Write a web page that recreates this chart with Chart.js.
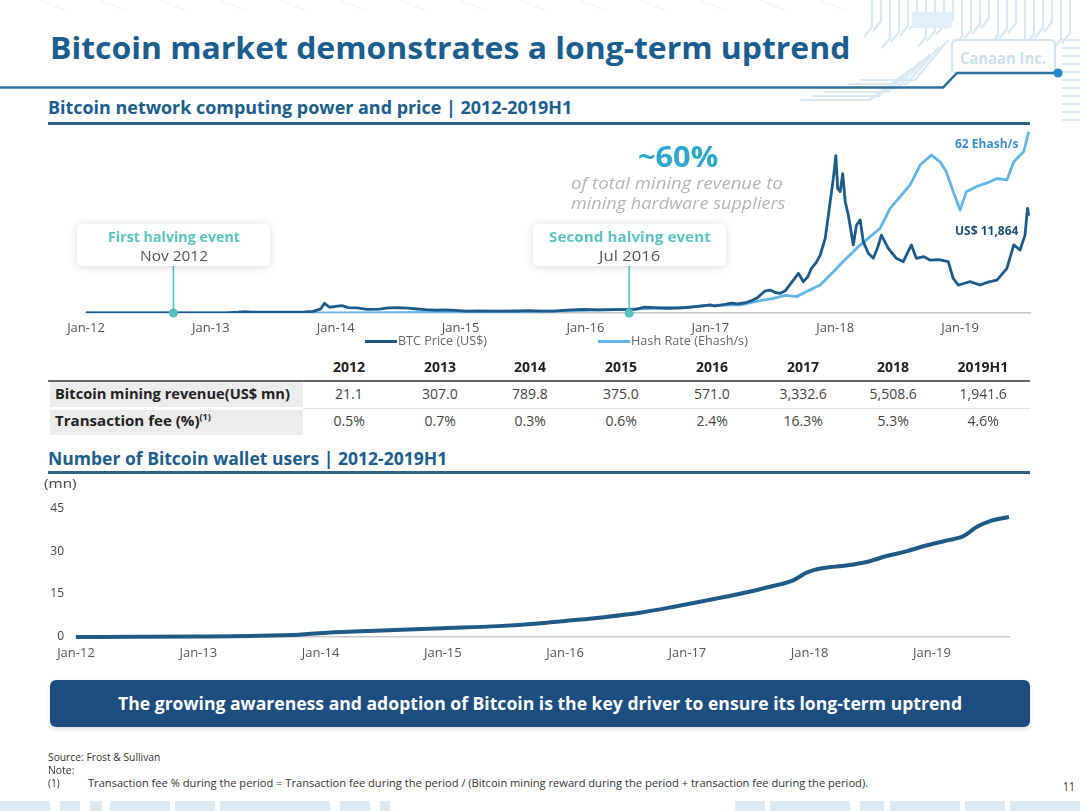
<!DOCTYPE html>
<html>
<head>
<meta charset="utf-8">
<script src="https://cdn.jsdelivr.net/npm/chart.js@4.4.1/dist/chart.umd.min.js"></script>
<style>
  html,body{margin:0;padding:0;background:#fff;}
  #page{position:relative;width:1080px;height:811px;overflow:hidden;font-family:'Open Sans','Noto Sans',sans-serif;}
  .t{position:absolute;white-space:nowrap;transform-origin:0 50%;line-height:1.2;}
  .abs{position:absolute;}
  canvas{position:absolute;}
  sup{font-size:60%;vertical-align:top;position:relative;top:-1px;}
</style>
</head>
<body>
<div id="page">
  <svg id="deco" class="abs" width="1080" height="811" style="left:0;top:0"></svg>
  <canvas id="c1" width="1080" height="225" style="left:0;top:120px"></canvas>
  <canvas id="c2" width="1080" height="176" style="left:0;top:489px"></canvas>
</div>
<script>
// ---------------- DATA ----------------
const tickYears = [2012, 2013, 2014, 2015, 2016, 2017, 2018, 2019];

// BTC price (US$), x = decimal year
const priceX = [2012.00,2012.20,2012.45,2012.62,2012.75,2013.00,2013.12,2013.22,2013.27,2013.32,2013.45,2013.55,2013.65,2013.75,2013.82,2013.88,2013.91,2013.95,2014.00,2014.05,2014.10,2014.17,2014.25,2014.35,2014.42,2014.50,2014.58,2014.65,2014.72,2014.80,2014.88,2014.96,2015.04,2015.15,2015.30,2015.45,2015.55,2015.65,2015.75,2015.85,2015.93,2016.00,2016.10,2016.25,2016.40,2016.47,2016.55,2016.65,2016.75,2016.85,2016.95,2017.00,2017.03,2017.12,2017.17,2017.22,2017.28,2017.33,2017.38,2017.40,2017.44,2017.48,2017.52,2017.56,2017.60,2017.63,2017.665,2017.705,2017.745,2017.78,2017.81,2017.85,2017.88,2017.92,2017.96,2017.985,2018.005,2018.02,2018.04,2018.06,2018.08,2018.105,2018.145,2018.17,2018.20,2018.225,2018.265,2018.305,2018.34,2018.37,2018.425,2018.49,2018.545,2018.61,2018.65,2018.71,2018.76,2018.83,2018.905,2018.945,2018.985,2019.03,2019.08,2019.16,2019.23,2019.295,2019.375,2019.43,2019.48,2019.52,2019.54,2019.55];
const priceY = [5.5,5,6.5,10,12,13.5,22,90,160,110,110,90,115,140,200,500,1180,700,800,900,650,620,450,480,620,640,590,490,400,350,380,320,220,255,230,245,285,230,240,350,420,430,380,420,450,700,650,580,610,710,900,1000,850,1050,1200,1100,1250,1500,1900,2200,2700,2800,2500,2400,2700,3300,4000,4840,3820,4400,5450,6200,7070,9100,13600,16400,19200,15200,14800,17000,13600,11950,8300,10700,11340,8700,7280,6670,8000,9500,7890,6670,6260,8300,6670,6870,6460,6500,6260,4230,3410,3600,3820,3410,3800,4020,5450,8300,7680,9500,12770,11864];

// Network hash rate (Ehash/s)
const hashX = [2012.00,2013.00,2014.00,2014.50,2015.00,2015.50,2016.00,2016.50,2016.80,2017.00,2017.24,2017.40,2017.505,2017.60,2017.69,2017.78,2017.88,2017.985,2018.09,2018.17,2018.25,2018.36,2018.44,2018.52,2018.60,2018.68,2018.77,2018.84,2018.89,2018.945,2019.00,2019.05,2019.13,2019.21,2019.295,2019.375,2019.43,2019.51,2019.55];
const hashY = [0,0.01,0.02,0.15,0.35,0.45,0.9,1.5,2.0,2.6,2.8,4.2,5.0,6.0,5.6,7.5,9.6,14.1,18.7,22.1,25,29,35.8,39.8,43.8,50.6,54,51.7,48.3,41.5,35.2,41.5,43.2,44.4,46,45.5,51.7,55.2,62];

// Halving events (positions as drawn in the reference)
const halvingX = [2012.70, 2016.35];
const halvingTitles = ['First halving event', 'Second halving event'];
const halvingDates = ['Nov 2012', 'Jul 2016'];

// Table
const tableYears = ['2012','2013','2014','2015','2016','2017','2018','2019H1'];
const miningRevenue = ['21.1','307.0','789.8','375.0','571.0','3,332.6','5,508.6','1,941.6'];
const transactionFee = ['0.5%','0.7%','0.3%','0.6%','2.4%','16.3%','5.3%','4.6%'];

// Wallet users (mn)
const walletX = [2012.0,2012.5,2013.0,2013.5,2013.85,2014.05,2014.5,2015.0,2015.45,2015.8,2016.0,2016.35,2016.61,2016.88,2017.16,2017.43,2017.70,2017.865,2017.975,2018.11,2018.30,2018.465,2018.63,2018.79,2018.93,2019.12,2019.255,2019.365,2019.47,2019.63];
const walletY = [0,0.05,0.15,0.4,0.9,1.5,2.3,3.1,3.8,4.8,5.6,7.1,8.5,10.5,12.8,15.1,17.8,19.8,22.5,24.1,25.0,26.2,28.3,29.9,31.7,33.7,35.2,38.4,40.4,41.9];
const walletTicks = [0, 15, 30, 45];

// ---------------- STYLE ----------------
const NAVY = '#1b5d8e', PRICE = '#1d5a8a', HASH = '#62b4e6', TEAL = '#52c0bd';
const page = document.getElementById('page');

function T(html, left, cy, w, css, center) {
  const d = document.createElement('div');
  d.className = 't';
  d.innerHTML = html;
  Object.assign(d.style, css || {});
  page.appendChild(d);
  const nat = d.offsetWidth;
  const k = w ? w / nat : 1;
  const ww = w || nat;
  d.style.left = (center ? left - ww / 2 : left) + 'px';
  d.style.top = cy + 'px';
  d.style.transform = 'translateY(-50%) scaleX(' + k + ')';
  return d;
}
function R(left, top, w, h, css) {
  const d = document.createElement('div');
  d.className = 'abs';
  Object.assign(d.style, {left: left + 'px', top: top + 'px', width: w + 'px', height: h + 'px'}, css || {});
  page.appendChild(d);
  return d;
}

// ---------------- DECORATION ----------------
(function deco() {
  const svg = document.getElementById('deco');
  let s = '';
  const c = '#d9e9f4';
  for (let x = 872; x <= 1078; x += 9) {
    const h = 18 + ((x * 7) % 23);
    s += `<polyline points="${x},0 ${x},${h} ${x - 8},${h + 10}" fill="none" stroke="${c}" stroke-width="2.2"/>`;
  }
  for (let i = 0; i < 6; i++) {
    s += `<polyline points="${948 - i * 9},${40 + i * 7} ${915 - i * 9},${80 + i * 4} ${860 - i * 12},${80 + i * 4}" fill="none" stroke="${c}" stroke-width="2.2"/>`;
  }
  s += `<rect x="912" y="12" width="40" height="16" fill="#e3eff8"/>`;
  for (let y = 40; y <= 125; y += 8) s += `<line x1="1062" y1="${y}" x2="1080" y2="${y}" stroke="${c}" stroke-width="2"/>`;
  for (let x = 40; x < 860; x += 60) s += `<line x1="${x}" y1="0" x2="${x + 25}" y2="10" stroke="#f3f8fc" stroke-width="2"/>`;
  // bottom strip
  const blocks = [[0,50],[60,20],[90,12],[110,60],[175,40],[220,110],[340,30],[380,10],[735,30],[770,80],[860,24],[890,70],[965,40],[1010,70]];
  blocks.forEach(b => { s += `<rect x="${b[0]}" y="801" width="${b[1]}" height="10" fill="#d3e6f3" opacity="0.8"/>`; });
  // header line
  s += `<rect x="952" y="40" width="103" height="33" rx="4" fill="#fff" stroke="#d3e5f1" stroke-width="2"/>`;
  s += `<polyline points="0,87.5 943,87.5 957,73 1058,73" fill="none" stroke="#2b6e9c" stroke-width="2.5"/>`;
  s += `<circle cx="1058" cy="73" r="4.5" fill="#1f88c9"/>`;
  svg.innerHTML = s;
})();

// ---------------- TEXT / LAYOUT ----------------
T('Canaan Inc.', 1003, 59, 86, {fontSize: '16px', fontWeight: 700, color: '#cddfeb'}, true);
T('Bitcoin market demonstrates a long-term uptrend', 50, 48, 800, {fontSize: '31px', fontWeight: 700, color: NAVY});
T('Bitcoin network computing power and price | 2012-2019H1', 48, 108, 524, {fontSize: '17px', fontWeight: 700, color: NAVY});
R(48, 122, 982, 3, {background: '#2a628c'});

// ---------------- CHART 1 ----------------
const pts = (xs, ys) => xs.map((x, i) => ({x: x, y: ys[i]}));
const tickLabel = v => 'Jan-' + String(v).slice(2);
const PRICE_MAX = 22927, HASH_MAX = 64.3, MARKER_TOP = 5730;

const markerSets = halvingX.map((hx, i) => ({
  label: halvingTitles[i],
  data: [{x: hx, y: 0}, {x: hx, y: MARKER_TOP}],
  yAxisID: 'yP', borderColor: TEAL, borderWidth: 1.5,
  pointRadius: [4.5, 0], pointBackgroundColor: TEAL, pointBorderWidth: 0,
  clip: false, order: 0
}));

new Chart(document.getElementById('c1'), {
  type: 'line',
  data: {
    datasets: [
      {label: 'BTC Price (US$)', data: pts(priceX, priceY), yAxisID: 'yP', borderColor: PRICE, borderWidth: 2.8, pointRadius: 0, tension: 0, borderJoinStyle: 'round', order: 1},
      {label: 'Hash Rate (Ehash/s)', data: pts(hashX, hashY), yAxisID: 'yH', borderColor: HASH, borderWidth: 2.8, pointRadius: 0, tension: 0, borderJoinStyle: 'round', order: 2},
      ...markerSets
    ]
  },
  options: {
    responsive: false, animation: false,
    layout: {padding: {left: 86, right: 50, top: 5, bottom: 0}},
    plugins: {legend: {display: false}, tooltip: {enabled: false}},
    scales: {
      x: {
        type: 'linear', min: 2012, max: 2019.56,
        afterBuildTicks: s => { s.ticks = tickYears.map(v => ({value: v})); },
        afterFit: s => { s.height = 32; },
        grid: {display: false, drawTicks: false},
        border: {display: true, color: '#c4c4c4', width: 1.5},
        ticks: {callback: tickLabel, color: '#555', font: {family: 'Open Sans', size: 13}, padding: 7, maxRotation: 0, autoSkip: false}
      },
      yP: {display: false, min: 0, max: PRICE_MAX},
      yH: {display: false, min: 0, max: HASH_MAX}
    }
  }
});

// annotations over chart 1
T('~60%', 678, 157, 80, {fontSize: '28px', fontWeight: 700, color: '#2ea6d2'}, true);
T('of total mining revenue to', 677, 183, 212, {fontSize: '17px', fontStyle: 'italic', color: '#b4b4b4'}, true);
T('mining hardware suppliers', 678, 203, 214, {fontSize: '17px', fontStyle: 'italic', color: '#b4b4b4'}, true);
T('62 Ehash/s', 955, 144, 63, {fontSize: '12px', fontWeight: 700, color: '#3c8fc6'});
T('US$ 11,864', 955, 231, 63, {fontSize: '12px', fontWeight: 700, color: '#1d4f78'});

const boxLeft = [77, 533];
halvingX.forEach((hx, i) => {
  R(boxLeft[i], 224, 193, 42, {background: '#fff', borderRadius: '5px', boxShadow: '0 1px 8px rgba(0,0,0,0.16)'});
  const cx = boxLeft[i] + 96.5;
  T(halvingTitles[i], cx, 236, i === 0 ? 132 : 162, {fontSize: '15px', fontWeight: 700, color: '#5cc4c0'}, true);
  T(halvingDates[i], cx, 255, i === 0 ? 68 : 61, {fontSize: '15px', color: '#555'}, true);
});

// legend
R(365, 340, 32, 3, {background: PRICE});
T('BTC Price (US$)', 398, 341, 89, {fontSize: '12px', color: '#666'});
R(598, 340, 32, 3, {background: HASH});
T('Hash Rate (Ehash/s)', 631, 341, 117, {fontSize: '12px', color: '#666'});

// ---------------- TABLE ----------------
const colX = [349, 440, 530, 621, 712, 803, 893, 983];
R(50, 382, 253, 25, {background: '#ececec'});
R(50, 410, 253, 25, {background: '#ececec'});
R(48, 380, 982, 2, {background: '#666'});
R(303, 408, 727, 1, {background: '#e4e4e4'});
tableYears.forEach((y, i) => T(y, colX[i], 367, null, {fontSize: '14px', fontWeight: 700, color: '#222'}, true));
miningRevenue.forEach((v, i) => T(v, colX[i], 394, null, {fontSize: '14px', color: '#444'}, true));
transactionFee.forEach((v, i) => T(v, colX[i], 421, null, {fontSize: '14px', color: '#444'}, true));
T('Bitcoin mining revenue(US$ mn)', 55, 394, 235, {fontSize: '14px', fontWeight: 700, color: '#222'});
T('Transaction fee (%)<sup>(1)</sup>', 55, 421, 156, {fontSize: '14px', fontWeight: 700, color: '#222'});

// ---------------- CHART 2 ----------------
T('Number of Bitcoin wallet users | 2012-2019H1', 48, 459, 399, {fontSize: '17px', fontWeight: 700, color: NAVY});
R(48, 471, 982, 3, {background: '#2a628c'});
T('(mn)', 44, 484, 33, {fontSize: '13px', color: '#444'});

new Chart(document.getElementById('c2'), {
  type: 'line',
  data: {datasets: [{label: 'Bitcoin wallet users (mn)', data: pts(walletX, walletY), borderColor: '#1f5a84', borderWidth: 4, pointRadius: 0, cubicInterpolationMode: 'monotone', clip: false}]},
  options: {
    responsive: false, animation: false,
    layout: {padding: {left: 0, right: 71, top: 12, bottom: 0}},
    plugins: {legend: {display: false}, tooltip: {enabled: false}},
    scales: {
      x: {
        type: 'linear', min: 2012, max: 2019.63,
        afterBuildTicks: s => { s.ticks = tickYears.map(v => ({value: v})); },
        afterFit: s => { s.height = 28; },
        grid: {display: false, drawTicks: false},
        border: {display: true, color: '#c8c8c8', width: 1.5},
        ticks: {callback: tickLabel, color: '#555', font: {family: 'Open Sans', size: 13}, padding: 8, maxRotation: 0, autoSkip: false}
      },
      y: {
        min: 0, max: 45,
        afterBuildTicks: s => { s.ticks = walletTicks.map(v => ({value: v})); },
        afterFit: s => { s.width = 76; },
        grid: {display: false, drawTicks: false}, border: {display: false},
        ticks: {color: '#444', font: {family: 'Open Sans', size: 12}, padding: 12}
      }
    }
  }
});

// ---------------- BANNER & FOOTER ----------------
R(50, 680, 980, 47, {background: '#1d4d7f', borderRadius: '6px', boxShadow: '0 2px 4px rgba(0,0,0,0.15)'});
T('The growing awareness and adoption of Bitcoin is the key driver to ensure its long-term uptrend', 540, 704, 844, {fontSize: '18px', fontWeight: 700, color: '#fff'}, true);
T('Source: Frost &amp; Sullivan', 48, 757, 112, {fontSize: '10px', color: '#333'});
T('Note:', 48, 770, 26, {fontSize: '10px', color: '#333'});
T('(1)', 48, 783, 12, {fontSize: '10px', color: '#333'});
T('Transaction fee % during the period = Transaction fee during the period / (Bitcoin mining reward during the period + transaction fee during the period).', 88, 783, 780, {fontSize: '10px', color: '#333'});
T('11', 1063, 787, 12, {fontSize: '12px', color: '#333'});
</script>
</body>
</html>
